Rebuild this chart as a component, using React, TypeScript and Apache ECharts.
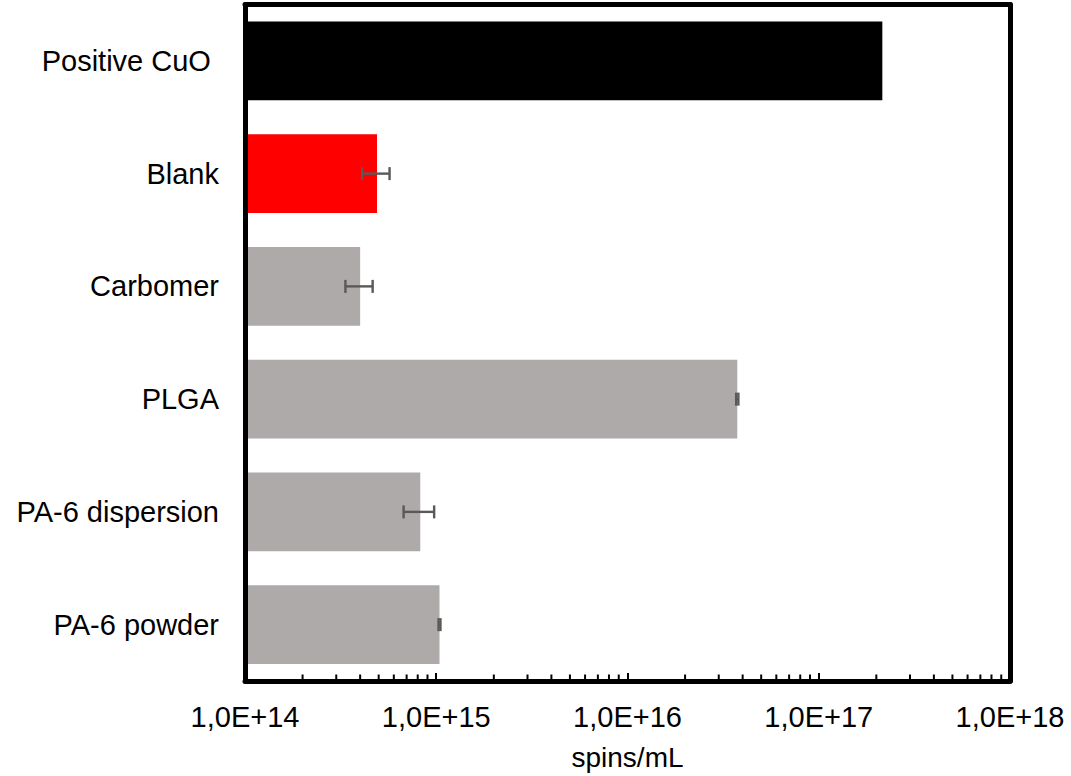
import React, { useEffect, useRef } from "react";
import * as echarts from "echarts";

// Samples, top to bottom
const categories = ["Positive CuO\u00a0", "Blank", "Carbomer", "PLGA", "PA-6 dispersion", "PA-6 powder"];
// Spin concentration (spins/mL)
const spinValues = [2.15e17, 4.9e14, 4.0e14, 3.75e16, 8.25e14, 1.04e15];
// Standard deviation (spins/mL); 0 = no error bar
const spinErrors = [0, 0.8e14, 0.65e14, 0.05e16, 1.5e14, 0.012e15];
const barColors = ["#000000", "#ff0000", "#aeaaaa", "#aeaaaa", "#aeaaaa", "#aeaaaa"];
const xTickLabels = ["1,0E+14", "1,0E+15", "1,0E+16", "1,0E+17", "1,0E+18"];
const xMinExp = 14;
const xMaxExp = 18;

// Logarithmic minor tick positions (2..9 within each decade)
const minorMultipliers = [2, 3, 4, 5, 6, 7, 8, 9];
const minorTickValues: number[] = [];
for (let e = xMinExp; e < xMaxExp; e++) {
  for (const m of minorMultipliers) minorTickValues.push(m * Math.pow(10, e));
}

const FONT = "'Liberation Sans', Arial, sans-serif";

export default function App() {
  const ref = useRef<HTMLDivElement>(null);

  useEffect(() => {
    if (!ref.current) return;
    const chart = echarts.init(ref.current, undefined, { renderer: "svg" });

    const frameLine = { show: true, lineStyle: { color: "#000", width: 5, cap: "round" as const } };

    const errorData = spinValues
      .map((v, i) => [i, v - spinErrors[i], v + spinErrors[i]])
      .filter((_, i) => spinErrors[i] > 0);

    chart.setOption({
      animation: false,
      backgroundColor: "#fff",
      grid: { left: 245, right: 61, top: 4.5, bottom: 94.5, containLabel: false },
      xAxis: [
        {
          type: "log",
          logBase: 10,
          min: Math.pow(10, xMinExp),
          max: Math.pow(10, xMaxExp),
          position: "bottom",
          z: 10,
          axisLine: frameLine,
          axisTick: { show: true, inside: true, length: 8, lineStyle: { color: "#000", width: 2 } },
          splitLine: { show: false },
          axisLabel: {
            margin: 21,
            fontSize: 29,
            fontFamily: FONT,
            color: "#000",
            formatter: (v: number) => xTickLabels[Math.round(Math.log10(v)) - xMinExp] ?? "",
          },
          name: "spins/mL",
          nameLocation: "middle",
          nameGap: 62,
          nameTextStyle: { fontSize: 28, fontFamily: FONT, color: "#000" },
        },
        {
          type: "log",
          logBase: 10,
          min: Math.pow(10, xMinExp),
          max: Math.pow(10, xMaxExp),
          position: "top",
          z: 10,
          axisLine: frameLine,
          axisTick: { show: false },
          axisLabel: { show: false },
          splitLine: { show: false },
        },
      ],
      yAxis: [
        {
          type: "category",
          data: categories,
          inverse: true,
          position: "left",
          z: 10,
          axisLine: frameLine,
          axisTick: { show: false },
          axisLabel: { margin: 26, fontSize: 29, fontFamily: FONT, color: "#000" },
        },
        {
          type: "category",
          data: categories,
          inverse: true,
          position: "right",
          z: 10,
          axisLine: frameLine,
          axisTick: { show: false },
          axisLabel: { show: false },
        },
      ],
      series: [
        {
          type: "bar",
          xAxisIndex: 0,
          yAxisIndex: 0,
          barCategoryGap: "30%",
          data: spinValues.map((v, i) => ({ value: v, itemStyle: { color: barColors[i] } })),
        },
        {
          type: "custom",
          xAxisIndex: 0,
          yAxisIndex: 0,
          z: 5,
          encode: { x: [1, 2], y: 0 },
          data: errorData,
          renderItem: (params: any, api: any) => {
            const idx = api.value(0);
            const lo = api.coord([api.value(1), idx]);
            const hi = api.coord([api.value(2), idx]);
            const h = 6.5;
            const style = { stroke: "#595959", lineWidth: 2.4 };
            return {
              type: "group",
              children: [
                { type: "line", shape: { x1: lo[0], y1: lo[1], x2: hi[0], y2: hi[1] }, style },
                { type: "line", shape: { x1: lo[0], y1: lo[1] - h, x2: lo[0], y2: lo[1] + h }, style },
                { type: "line", shape: { x1: hi[0], y1: hi[1] - h, x2: hi[0], y2: hi[1] + h }, style },
              ],
            };
          },
        },
        {
          type: "custom",
          xAxisIndex: 0,
          yAxisIndex: 0,
          z: 6,
          encode: { x: 0, y: 1 },
          data: minorTickValues.map((v) => [v, 0]),
          renderItem: (params: any, api: any) => {
            const x = api.coord([api.value(0), 0])[0];
            const cs = params.coordSys;
            const bottom = cs.y + cs.height;
            return {
              type: "line",
              shape: { x1: x, y1: bottom, x2: x, y2: bottom - 6.5 },
              style: { stroke: "#000", lineWidth: 2 },
            };
          },
        },
      ],
    });

    return () => chart.dispose();
  }, []);

  return (
    <div
      ref={ref}
      style={{ position: "absolute", left: 0, top: 0, width: 1071, height: 776 }}
    />
  );
}
